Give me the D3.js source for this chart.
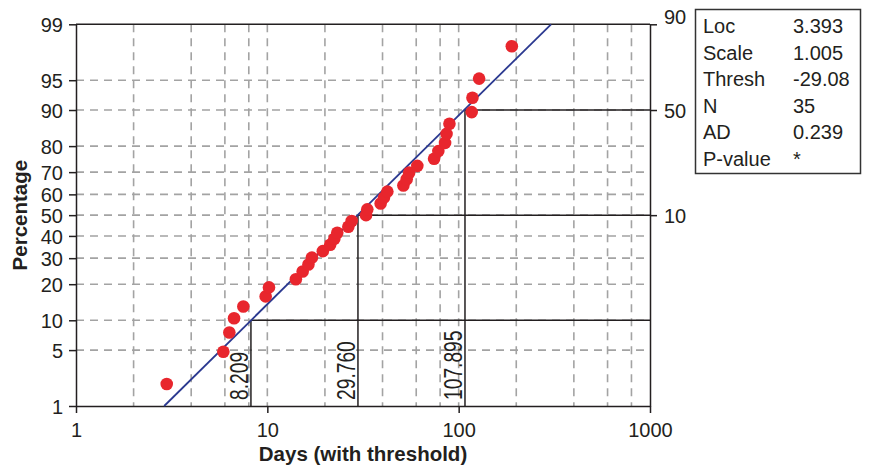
<!DOCTYPE html>
<html>
<head>
<meta charset="utf-8">
<script src="https://cdn.jsdelivr.net/npm/d3@7"></script>
<style>
  html, body { margin: 0; padding: 0; background: #fff; }
  svg { display: block; }
  text { font-family: "Liberation Sans", Arial, sans-serif; fill: #231f20; }
</style>
</head>
<body>
<svg id="chart" width="869" height="468"></svg>
<script>
// ---- data ----
const days = [2.98, 5.89, 6.33, 6.70, 7.49, 9.80, 10.2, 14.1, 15.3, 16.4, 17.1, 19.5,
  21.3, 22.4, 23.2, 26.5, 27.6, 32.8, 33.3, 39.1, 40.7, 42.4, 51.4, 53.5, 55.1, 60.8,
  74.4, 78.3, 84.9, 86.4, 89.5, 117, 118, 127.9, 189.6];
const percents = [1.98, 4.80, 7.63, 10.45, 13.28, 16.10, 18.93, 21.75, 24.58, 27.40,
  30.23, 33.05, 35.88, 38.70, 41.53, 44.35, 47.18, 50.00, 52.82, 55.65, 58.47, 61.30,
  64.12, 66.95, 69.77, 72.60, 75.42, 78.25, 81.07, 83.90, 86.72, 89.55, 92.37, 95.20, 98.02];
const fitDays = [2.89, 304];
const fitPercents = [1, 99];
const refPercents = [10, 50, 90];
const refDays = [8.209, 29.760, 107.895];
const refLabels = ["8.209", "29.760", "107.895"];
const xTicks = [1, 10, 100, 1000];
const xGrid = [2, 4, 6, 8, 10, 20, 40, 60, 80, 100, 200, 400, 600, 800];
const yTicks = [1, 5, 10, 20, 30, 40, 50, 60, 70, 80, 90, 95, 99];
const yGrid = [5, 10, 20, 30, 40, 50, 60, 70, 80, 90, 95];
const rightTicks = [99, 90, 50];
const rightLabels = ["90", "50", "10"];
const legendLabels = ["Loc", "Scale", "Thresh", "N", "AD", "P-value"];
const legendValues = ["3.393", "1.005", "-29.08", "35", "0.239", "*"];
const xTitle = "Days (with threshold)";
const yTitle = "Percentage";

// ---- normal quantile (probability-scale transform) ----
function probit(p) {
  const a = [-3.969683028665376e+01, 2.209460984245205e+02, -2.759285104469687e+02, 1.383577518672690e+02, -3.066479806614716e+01, 2.506628277459239e+00];
  const b = [-5.447609879822406e+01, 1.615858368580409e+02, -1.556989798598866e+02, 6.680131188771972e+01, -1.328068155288572e+01];
  const c = [-7.784894002430293e-03, -3.223964580411365e-01, -2.400758277161838e+00, -2.549732539343734e+00, 4.374664141464968e+00, 2.938163982698783e+00];
  const d = [7.784695709041462e-03, 3.224671290700398e-01, 2.445134137142996e+00, 3.754408661907416e+00];
  const pl = 0.02425, ph = 1 - pl;
  let q, r;
  if (p < pl) { q = Math.sqrt(-2 * Math.log(p));
    return (((((c[0]*q+c[1])*q+c[2])*q+c[3])*q+c[4])*q+c[5]) / ((((d[0]*q+d[1])*q+d[2])*q+d[3])*q+1); }
  if (p > ph) { q = Math.sqrt(-2 * Math.log(1 - p));
    return -(((((c[0]*q+c[1])*q+c[2])*q+c[3])*q+c[4])*q+c[5]) / ((((d[0]*q+d[1])*q+d[2])*q+d[3])*q+1); }
  q = p - 0.5; r = q * q;
  return (((((a[0]*r+a[1])*r+a[2])*r+a[3])*r+a[4])*r+a[5])*q / (((((b[0]*r+b[1])*r+b[2])*r+b[3])*r+b[4])*r+1);
}

const L = 76, R = 650, T = 24.3, B = 406;
const svg = d3.select("#chart");
const x = d3.scaleLog().domain([1, 1000]).range([L, R]);
const yz = d3.scaleLinear().domain([probit(0.01), probit(0.99)]).range([B, T]);
const y = p => yz(probit(p / 100));

const gridColor = "#a3a3a3", ink = "#231f20";

// grid
svg.append("g").selectAll("line").data(xGrid).join("line")
  .attr("x1", d => x(d)).attr("x2", d => x(d)).attr("y1", T).attr("y2", B)
  .attr("stroke", gridColor).attr("stroke-width", 1.6).attr("stroke-dasharray", "8,6");
svg.append("g").selectAll("line").data(yGrid).join("line")
  .attr("x1", L).attr("x2", R).attr("y1", d => y(d)).attr("y2", d => y(d))
  .attr("stroke", gridColor).attr("stroke-width", 1.6).attr("stroke-dasharray", "8,6");

// reference lines
const refG = svg.append("g");
refPercents.forEach((p, i) => {
  const xv = x(refDays[i]), yv = y(p);
  refG.append("line").attr("x1", xv).attr("x2", R).attr("y1", yv).attr("y2", yv)
    .attr("stroke", ink).attr("stroke-width", 1.5);
  refG.append("line").attr("x1", xv).attr("x2", xv).attr("y1", yv).attr("y2", B)
    .attr("stroke", ink).attr("stroke-width", 1.5);
  refG.append("text").attr("transform", `translate(${xv - 2.5},${B - 6}) rotate(-90) scale(0.74,1)`)
    .attr("font-size", 26).attr("text-anchor", "start").text(refLabels[i]);
});

// frame top line
svg.append("line").attr("x1", L).attr("x2", R).attr("y1", T).attr("y2", T)
  .attr("stroke", ink).attr("stroke-width", 1.5);

// axes
const xAxis = svg.append("g").attr("transform", `translate(0,${B})`)
  .call(d3.axisBottom(x).tickValues(xTicks).tickFormat(d3.format("d")).tickSize(7).tickSizeOuter(0));
const yAxis = svg.append("g").attr("transform", `translate(${L},0)`)
  .call(d3.axisLeft(yz).tickValues(yTicks.map(p => probit(p / 100))).tickFormat((d, i) => yTicks[i]).tickSize(7).tickSizeOuter(0));
const rAxis = svg.append("g").attr("transform", `translate(${R},0)`)
  .call(d3.axisRight(yz).tickValues(rightTicks.map(p => probit(p / 100))).tickFormat((d, i) => rightLabels[i]).tickSize(7).tickSizeOuter(0));
[xAxis, yAxis, rAxis].forEach(g => {
  g.selectAll("path.domain").attr("stroke", ink).attr("stroke-width", 1.5);
  g.selectAll(".tick line").attr("stroke", ink).attr("stroke-width", 1.5);
  g.selectAll(".tick text").attr("font-size", 20).attr("font-family", "'Liberation Sans', Arial, sans-serif").attr("fill", ink);
});
xAxis.selectAll(".tick text").attr("dy", null).attr("y", 31);
yAxis.selectAll(".tick text").attr("x", -13).attr("dy", "0.36em");
rAxis.selectAll(".tick text").attr("x", 14).attr("dy", (d, i) => i === 0 ? "-0.02em" : "0.36em");

// fit line
svg.append("path")
  .attr("d", d3.line().x((d, i) => x(fitDays[i])).y((d, i) => y(fitPercents[i]))(fitDays))
  .attr("fill", "none").attr("stroke", "#2b3990").attr("stroke-width", 1.8);

// points
svg.append("g").selectAll("circle").data(days).join("circle")
  .attr("cx", d => x(d)).attr("cy", (d, i) => y(percents[i])).attr("r", 6.3)
  .attr("fill", "#e8262d");

// titles
svg.append("text").attr("x", (L + R) / 2).attr("y", 461).attr("text-anchor", "middle")
  .attr("font-size", 20.5).attr("font-weight", "bold").text(xTitle);
svg.append("text").attr("transform", `translate(27,${(T + B) / 2}) rotate(-90)`)
  .attr("text-anchor", "middle").attr("font-size", 20.5).attr("font-weight", "bold").text(yTitle);

// legend box
const lg = svg.append("g");
lg.append("rect").attr("x", 695.5).attr("y", 9.5).attr("width", 165).attr("height", 164)
  .attr("fill", "#fff").attr("stroke", "#333").attr("stroke-width", 1.5);
legendLabels.forEach((t, i) => {
  lg.append("text").attr("x", 703).attr("y", 33 + i * 26.6).attr("font-size", 20).text(t);
  lg.append("text").attr("x", 793).attr("y", 33 + i * 26.6).attr("font-size", 20).text(legendValues[i]);
});
</script>
</body>
</html>
